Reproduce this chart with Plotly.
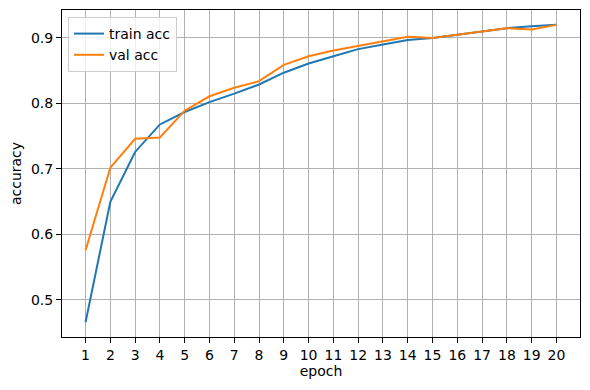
import plotly.graph_objects as go

epochs = list(range(1, 21))
train_acc = [0.466, 0.650, 0.726, 0.768, 0.787, 0.802, 0.815, 0.829, 0.847, 0.861,
             0.872, 0.883, 0.890, 0.897, 0.900, 0.905, 0.910, 0.915, 0.918, 0.920]
val_acc = [0.576, 0.702, 0.746, 0.748, 0.789, 0.811, 0.824, 0.834, 0.859, 0.872,
           0.881, 0.888, 0.895, 0.902, 0.900, 0.905, 0.911, 0.915, 0.913, 0.920]
y_ticks = [0.5, 0.6, 0.7, 0.8, 0.9]

FONT = "DejaVu Sans"
FS = 14

fig = go.Figure()
fig.add_trace(go.Scatter(x=epochs, y=train_acc, mode="lines", name="train acc",
                         line=dict(color="#1f77b4", width=2)))
fig.add_trace(go.Scatter(x=epochs, y=val_acc, mode="lines", name="val acc",
                         line=dict(color="#ff7f0e", width=2)))

# page body has an 8px margin; compensate so plot area lands at the reference spot
OFF = 8
W, H = 590 - OFF, 390 - OFF
L, R, T, B = 62 - OFF, 10, 10 - OFF, 53
pw = W - L - R
ph = H - T - B

axis_common = dict(showline=True, mirror=True, linecolor="black", linewidth=1,
                   showgrid=True, gridcolor="#b0b0b0", gridwidth=1.1,
                   ticks="outside", ticklen=5, tickcolor="black", tickwidth=1,
                   zeroline=False, automargin=False,
                   tickfont=dict(family=FONT, size=FS, color="black"))

fig.update_layout(
    width=W, height=H,
    margin=dict(l=L, r=R, t=T, b=B),
    paper_bgcolor="white", plot_bgcolor="white",
    font=dict(family=FONT, size=FS, color="black"),
    xaxis=dict(range=[0.05, 20.95], tickmode="array", tickvals=epochs,
               ticktext=[str(e) for e in epochs],
               title=dict(text="epoch", font=dict(family=FONT, size=FS), standoff=4),
               **axis_common),
    yaxis=dict(range=[0.4435, 0.9427], tickmode="array", tickvals=y_ticks,
               ticktext=[str(v) for v in y_ticks],
               title=dict(text="accuracy", font=dict(family=FONT, size=FS), standoff=6),
               **axis_common),
    legend=dict(x=(68 - 62) / pw, y=1 - (17 - 10) / ph, xanchor="left", yanchor="top",
                bgcolor="rgba(255,255,255,0.8)", bordercolor="#cccccc", borderwidth=1,
                font=dict(family=FONT, size=FS), tracegroupgap=0),
    showlegend=True,
)

fig.write_html("out.html")
